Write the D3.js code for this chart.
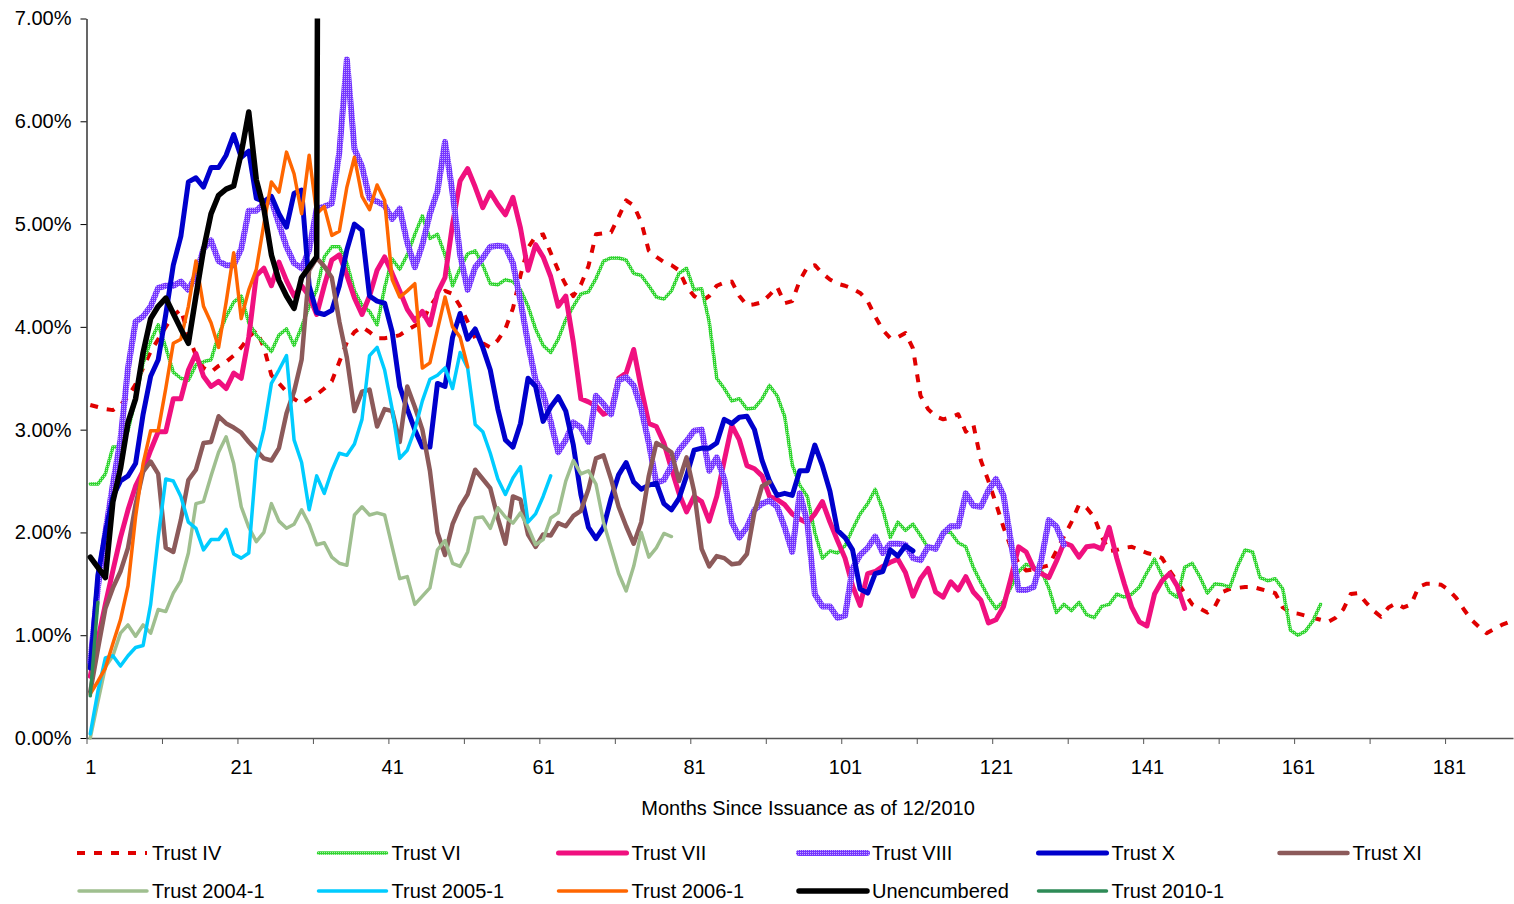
<!DOCTYPE html>
<html>
<head>
<meta charset="utf-8">
<script src="https://cdn.jsdelivr.net/npm/d3@7"></script>
<style>
  body { margin: 0; background: #fff; }
  text { font-family: "Liberation Sans", Arial, Helvetica, sans-serif; fill: #000; }
</style>
</head>
<body>
<svg id="chart" width="1514" height="904"></svg>
<script>
// ---------------- DATA ----------------
const monthCount = 189;
const xTickLabels = [1, 21, 41, 61, 81, 101, 121, 141, 161, 181];
const yTickValues = [0, 1, 2, 3, 4, 5, 6, 7];
const xAxisTitle = "Months Since Issuance as of 12/2010";

const seriesNames = ["Trust IV", "Trust VI", "Trust VII", "Trust VIII", "Trust X", "Trust XI",
  "Trust 2004-1", "Trust 2005-1", "Trust 2006-1", "Unencumbered", "Trust 2010-1"];

const trustIV = [
  3.24, 3.22, 3.20, 3.19, 3.24, 3.32, 3.44, 3.60, 3.76, 3.88,
  4.00, 4.11, 4.17, 3.92, 3.72, 3.60, 3.56, 3.62, 3.66, 3.72,
  3.80, 3.90, 3.97, 3.80, 3.53, 3.45, 3.37, 3.30, 3.25, 3.30,
  3.34, 3.40, 3.47, 3.66, 3.85, 3.95, 4.00, 3.95, 3.89, 3.89,
  3.90, 3.92, 3.97, 4.01, 4.05, 4.20, 4.30, 4.35, 4.32, 4.20,
  4.05, 3.89, 3.84, 3.80, 3.87, 3.98, 4.18, 4.50, 4.77, 4.88,
  4.90, 4.72, 4.55, 4.41, 4.30, 4.41, 4.59, 4.90, 4.91, 4.92,
  5.07, 5.23, 5.18, 5.02, 4.74, 4.68, 4.63, 4.60, 4.55, 4.39,
  4.30, 4.25, 4.30, 4.40, 4.43, 4.44, 4.30, 4.21, 4.22, 4.24,
  4.31, 4.39, 4.23, 4.25, 4.45, 4.58, 4.60, 4.52, 4.46, 4.42,
  4.40, 4.37, 4.33, 4.25, 4.10, 3.97, 3.89, 3.90, 3.94, 3.79,
  3.33, 3.20, 3.13, 3.10, 3.12, 3.15, 2.98, 3.05, 2.70, 2.50,
  2.28, 2.05, 1.85, 1.70, 1.63, 1.64, 1.66, 1.68, 1.82, 1.96,
  2.10, 2.27, 2.24, 2.15, 1.96, 1.82, 1.83, 1.85, 1.86, 1.83,
  1.80, 1.78, 1.75, 1.63, 1.52, 1.41, 1.30, 1.26, 1.22, 1.28,
  1.42, 1.45, 1.46, 1.47, 1.47, 1.45, 1.43, 1.41, 1.27, 1.22,
  1.21, 1.19, 1.17, 1.15, 1.13, 1.17, 1.25, 1.40, 1.41, 1.32,
  1.24, 1.18, 1.27, 1.31, 1.27, 1.30, 1.47, 1.50, 1.50, 1.49,
  1.44, 1.36, 1.25, 1.15, 1.08, 1.02, 1.06, 1.10, 1.13
];

const trustVI = [
  2.47, 2.47, 2.57, 2.83, 2.83, 2.99, 3.30, 3.65, 3.86, 4.02,
  3.80, 3.56, 3.50, 3.48, 3.63, 3.66, 3.68, 3.92, 4.10, 4.24,
  4.30, 4.04, 3.92, 3.84, 3.76, 3.92, 3.98, 3.82, 4.00, 4.20,
  4.36, 4.68, 4.78, 4.78, 4.62, 4.35, 4.21, 4.15, 4.02, 4.38,
  4.66, 4.56, 4.70, 4.90, 5.08, 4.86, 4.90, 4.70, 4.40, 4.57,
  4.71, 4.74, 4.60, 4.42, 4.41, 4.46, 4.44, 4.36, 4.20, 3.98,
  3.82, 3.75, 3.88, 4.07, 4.20, 4.32, 4.34, 4.47, 4.64, 4.67,
  4.67, 4.65, 4.52, 4.50, 4.40, 4.29, 4.27, 4.35, 4.52, 4.57,
  4.36, 4.37, 4.05, 3.50, 3.40, 3.28, 3.30, 3.20, 3.21, 3.30,
  3.43, 3.33, 3.13, 2.66, 2.46, 2.35, 2.00, 1.75, 1.82, 1.80,
  1.87, 2.03, 2.18, 2.28, 2.42, 2.22, 1.95, 2.10, 2.02, 2.08,
  1.97, 1.85, 1.84, 2.01, 2.00, 1.90, 1.86, 1.66, 1.51, 1.37,
  1.26, 1.33, 1.47, 1.62, 1.69, 1.66, 1.63, 1.46, 1.22, 1.30,
  1.24, 1.32, 1.20, 1.17, 1.28, 1.30, 1.40, 1.37, 1.40, 1.47,
  1.61, 1.74, 1.58, 1.42, 1.37, 1.66, 1.70, 1.57, 1.41, 1.50,
  1.49, 1.47, 1.67, 1.83, 1.81, 1.56, 1.53, 1.55, 1.45, 1.05,
  1.00, 1.04, 1.14, 1.30
];

const trustVII = [
  0.60, 0.95, 1.30, 1.63, 1.95, 2.22, 2.45, 2.60, 2.80, 2.98,
  2.98, 3.30, 3.30, 3.58, 3.74, 3.52, 3.42, 3.47, 3.40, 3.55,
  3.50, 3.90, 4.50, 4.57, 4.40, 4.63, 4.45, 4.30, 4.40, 4.30,
  4.12, 4.40, 4.65, 4.70, 4.50, 4.28, 4.12, 4.30, 4.55, 4.68,
  4.52, 4.35, 4.17, 4.06, 4.15, 4.02, 4.33, 4.48, 5.00, 5.42,
  5.54, 5.36, 5.16, 5.31, 5.19, 5.09, 5.26, 4.96, 4.55, 4.80,
  4.68, 4.49, 4.20, 4.30, 3.85, 3.30, 3.27, 3.23, 3.15, 3.18,
  3.50, 3.55, 3.78, 3.40, 3.06, 3.03, 2.87, 2.62, 2.38, 2.20,
  2.35, 2.30, 2.11, 2.35, 2.70, 3.04, 2.90, 2.65, 2.62, 2.55,
  2.35, 2.32, 2.27, 2.18, 2.13, 2.09, 2.18, 2.30, 2.10, 1.92,
  1.75, 1.48, 1.29, 1.60, 1.62, 1.67, 1.71, 1.74, 1.61, 1.38,
  1.55, 1.65, 1.42, 1.37, 1.52, 1.44, 1.57, 1.42, 1.34, 1.12,
  1.15, 1.28, 1.56, 1.86, 1.81, 1.65, 1.60, 1.56, 1.72, 1.90,
  1.87, 1.76, 1.86, 1.87, 1.84, 2.05, 1.75, 1.50, 1.27, 1.13,
  1.09, 1.40, 1.53, 1.60, 1.48, 1.26
];

const trustVIII = [
  0.74, 1.46, 2.00, 2.47, 2.90, 3.60, 4.05, 4.10, 4.20, 4.38,
  4.40, 4.40, 4.44, 4.36, 4.50, 4.76, 4.84, 4.64, 4.60, 4.60,
  4.76, 5.13, 5.13, 5.20, 5.23, 5.00, 4.78, 4.62, 4.57, 4.75,
  5.15, 5.17, 5.20, 5.70, 6.60, 5.73, 5.56, 5.25, 5.22, 5.18,
  5.05, 5.15, 4.82, 4.58, 4.80, 5.10, 5.32, 5.80, 5.30, 4.70,
  4.36, 4.58, 4.67, 4.78, 4.79, 4.78, 4.62, 4.25, 3.84, 3.48,
  3.35, 3.08, 2.78, 2.90, 3.07, 3.02, 2.88, 3.33, 3.25, 3.15,
  3.48, 3.51, 3.43, 3.20, 2.87, 2.48, 2.51, 2.65, 2.80, 2.89,
  2.99, 3.00, 2.60, 2.73, 2.52, 2.10, 1.95, 2.05, 2.22, 2.28,
  2.31, 2.25, 2.05, 1.81, 2.38, 2.10, 1.40, 1.28, 1.28, 1.17,
  1.19, 1.65, 1.78, 1.85, 1.96, 1.80, 1.89, 1.89, 1.88, 1.75,
  1.73, 1.86, 1.84, 1.99, 2.06, 2.06, 2.38, 2.26, 2.25, 2.41,
  2.52, 2.36, 1.90, 1.44, 1.44, 1.47, 1.73, 2.12, 2.06, 1.88
];

const trustX = [
  0.68, 1.58, 2.00, 2.35, 2.50, 2.55, 2.67, 3.15, 3.52, 3.68,
  4.12, 4.60, 4.88, 5.41, 5.45, 5.36, 5.55, 5.55, 5.67, 5.87,
  5.65, 5.71, 5.25, 5.22, 5.27, 5.10, 4.97, 5.30, 5.33, 4.40,
  4.14, 4.12, 4.16, 4.40, 4.75, 5.00, 4.94, 4.30, 4.25, 4.23,
  3.95, 3.42, 3.20, 3.00, 2.83, 2.83, 3.45, 3.42, 3.90, 4.13,
  3.88, 3.98, 3.80, 3.58, 3.20, 2.90, 2.83, 3.06, 3.50, 3.42,
  3.08, 3.22, 3.32, 3.18, 2.85, 2.37, 2.05, 1.94, 2.05, 2.33,
  2.56, 2.68, 2.49, 2.42, 2.46, 2.48, 2.28, 2.22, 2.33, 2.55,
  2.80, 2.82, 2.82, 2.87, 3.10, 3.06, 3.12, 3.13, 3.00, 2.70,
  2.50, 2.36, 2.38, 2.36, 2.60, 2.60, 2.85, 2.65, 2.40, 2.02,
  1.95, 1.83, 1.45, 1.41, 1.60, 1.62, 1.83, 1.77, 1.87, 1.82
];

const trustXI = [
  0.45, 0.86, 1.26, 1.46, 1.62, 1.85, 2.27, 2.59, 2.69, 2.57,
  1.85, 1.81, 2.12, 2.51, 2.61, 2.87, 2.88, 3.13, 3.06, 3.02,
  2.97, 2.88, 2.80, 2.72, 2.70, 2.82, 3.16, 3.37, 3.68, 4.55,
  4.67, 4.59, 4.48, 4.05, 3.70, 3.18, 3.37, 3.39, 3.03, 3.20,
  3.18, 2.88, 3.42, 3.22, 3.00, 2.60, 2.00, 1.78, 2.08, 2.25,
  2.37, 2.61, 2.52, 2.43, 2.14, 1.89, 2.35, 2.32, 1.98, 1.86,
  1.98, 1.97, 2.09, 2.06, 2.16, 2.21, 2.42, 2.72, 2.75, 2.52,
  2.25, 2.06, 1.89, 2.10, 2.55, 2.87, 2.83, 2.78, 2.50, 2.73,
  2.40, 1.84, 1.67, 1.77, 1.75, 1.69, 1.70, 1.79, 2.20, 2.45,
  2.49
];

const trust2004 = [
  0.00, 0.35, 0.69, 0.80, 1.02, 1.10, 0.99, 1.10, 1.02, 1.25,
  1.23, 1.41, 1.53, 1.80, 2.28, 2.30, 2.55, 2.78, 2.93, 2.67,
  2.25, 2.05, 1.91, 2.00, 2.28, 2.11, 2.04, 2.08, 2.22, 2.08,
  1.88, 1.90, 1.76, 1.70, 1.68, 2.17, 2.25, 2.17, 2.19, 2.17,
  1.86, 1.55, 1.57, 1.30, 1.38, 1.46, 1.83, 1.92, 1.70, 1.67,
  1.81, 2.14, 2.15, 2.04, 2.24, 2.15, 2.09, 2.19, 2.05, 1.88,
  1.93, 2.14, 2.19, 2.50, 2.70, 2.57, 2.60, 2.47, 2.10, 1.85,
  1.60, 1.43, 1.67, 2.00, 1.76, 1.85, 1.99, 1.96
];

const trust2005 = [
  0.04, 0.45, 0.78, 0.80, 0.70, 0.80, 0.88, 0.90, 1.30, 1.95,
  2.52, 2.50, 2.35, 2.10, 2.04, 1.83, 1.93, 1.93, 2.03, 1.79,
  1.75, 1.80, 2.70, 3.00, 3.45, 3.58, 3.72, 2.90, 2.68, 2.22,
  2.55, 2.38, 2.60, 2.77, 2.75, 2.86, 3.10, 3.72, 3.80, 3.58,
  3.20, 2.72, 2.80, 3.00, 3.28, 3.49, 3.53, 3.60, 3.40, 3.75,
  3.60, 3.05, 2.98, 2.77, 2.52, 2.37, 2.53, 2.64, 2.10, 2.18,
  2.35, 2.55
];

const trust2006 = [
  0.43, 0.55, 0.68, 0.92, 1.15, 1.48, 2.15, 2.67, 2.99, 2.99,
  3.40, 3.84, 3.88, 4.20, 4.64, 4.20, 4.04, 3.80, 4.24, 4.72,
  4.08, 4.36, 4.56, 5.00, 5.41, 5.31, 5.70, 5.49, 5.10, 5.67,
  5.10, 5.17, 4.89, 4.93, 5.36, 5.65, 5.27, 5.14, 5.38, 5.23,
  4.46, 4.29, 4.35, 4.42, 3.60, 3.65, 3.97, 4.29, 4.00, 3.90,
  3.61
];

const unencumbered = [
  1.76, 1.66, 1.56, 2.30, 2.62, 3.07, 3.30, 3.75, 4.08, 4.20,
  4.28, 4.13, 3.98, 3.84, 4.30, 4.75, 5.10, 5.28, 5.34, 5.37,
  5.69, 6.09, 5.43, 5.15, 4.70, 4.45, 4.30, 4.18, 4.48, 4.58,
  4.68, 30.0
];

const trust2010 = [0.41, 1.32];

const seriesValues = [trustIV, trustVI, trustVII, trustVIII, trustX, trustXI,
  trust2004, trust2005, trust2006, unencumbered, trust2010];

// ---------------- STYLES ----------------
const seriesStyles = [
  { stroke: "#e00000", width: 4, dash: "8,9", cap: "butt" },
  { stroke: "url(#patVI)", width: 3.5 },
  { stroke: "#f0107f", width: 5 },
  { stroke: "url(#patVIII)", width: 6 },
  { stroke: "#0000cc", width: 5 },
  { stroke: "#8c5a5a", width: 4.5 },
  { stroke: "#9fbf8f", width: 3.5 },
  { stroke: "#00ccff", width: 3.5 },
  { stroke: "#ff6600", width: 3.5 },
  { stroke: "#000000", width: 5.5 },
  { stroke: "#2e8b57", width: 3.5 }
];

// ---------------- CHART ----------------
const svg = d3.select("#chart");
const defs = svg.append("defs");

function stipple(id, base, dot) {
  const p = defs.append("pattern").attr("id", id)
    .attr("width", 2).attr("height", 2).attr("patternUnits", "userSpaceOnUse");
  p.append("rect").attr("width", 2).attr("height", 2).attr("fill", base);
  p.append("rect").attr("width", 1).attr("height", 1).attr("fill", dot);
}
stipple("patVI", "#2fd42f", "#a6f0a6");
stipple("patVIII", "#7436ff", "#c4a6ff");

const x = d3.scaleLinear().domain([0.5, monthCount + 0.5]).range([86.5, 1513]);
const y = d3.scaleLinear().domain([0, 7]).range([738, 18.5]);

defs.append("clipPath").attr("id", "plotClip")
  .append("rect").attr("x", 0).attr("y", y(7)).attr("width", 1514).attr("height", 904);

// Y axis
const yAxis = svg.append("g").attr("transform", `translate(${x.range()[0]},0)`)
  .call(d3.axisLeft(y).tickValues(yTickValues).tickSize(6).tickSizeOuter(0).tickPadding(9)
    .tickFormat(d => d.toFixed(2) + "%"));
yAxis.select(".domain").attr("stroke", "#000").attr("stroke-width", 1.2);
yAxis.selectAll(".tick line").attr("stroke", "#000");
yAxis.selectAll("text").style("font-size", "20px").attr("fill", "#000");

// X axis ticks (every 10 months, at category boundaries)
const xTickPositions = d3.range(0.5, 181, 10);
const xAxis = svg.append("g").attr("transform", `translate(0,${y(0)})`)
  .call(d3.axisBottom(x).tickValues(xTickPositions).tickSize(6).tickSizeOuter(0).tickFormat(""));
xAxis.select(".domain").attr("stroke", "#555").attr("stroke-width", 1.5);
xAxis.selectAll(".tick line").attr("stroke", "#555");

// X axis labels (every 20 months)
const xLab = svg.append("g").attr("transform", `translate(0,${y(0)})`)
  .call(d3.axisBottom(x).tickValues(xTickLabels).tickSize(0).tickPadding(22).tickFormat(d3.format("d")));
xLab.select(".domain").remove();
xLab.selectAll("text").style("font-size", "20px").attr("fill", "#000");

svg.append("text").attr("x", 808).attr("y", 815).attr("text-anchor", "middle")
  .style("font-size", "20px").text(xAxisTitle);

// Lines
const line = d3.line().x((d, i) => x(i + 1)).y(d => y(d));
const plot = svg.append("g").attr("clip-path", "url(#plotClip)");
seriesValues.forEach((vals, i) => {
  const s = seriesStyles[i];
  plot.append("path").datum(vals)
    .attr("d", line)
    .attr("fill", "none")
    .attr("stroke", s.stroke)
    .attr("stroke-width", s.width)
    .attr("stroke-linejoin", "round")
    .attr("stroke-linecap", s.cap || "round")
    .attr("stroke-dasharray", s.dash || null);
});

// Legend
const legendCols = [77, 316.5, 556.5, 797, 1036.5, 1277.5];
const legendRows = [853, 891];
seriesNames.forEach((name, i) => {
  const s = seriesStyles[i];
  const cx = legendCols[i % 6];
  const cy = legendRows[Math.floor(i / 6)];
  const g = svg.append("g");
  g.append("line").attr("x1", cx + (s.dash ? 0 : 2)).attr("x2", cx + 70).attr("y1", cy).attr("y2", cy)
    .attr("stroke", s.stroke).attr("stroke-width", s.width)
    .attr("stroke-linecap", s.cap || "round")
    .attr("stroke-dasharray", s.dash || null);
  g.append("text").attr("x", cx + 75).attr("y", cy + 7)
    .style("font-size", "20px").text(name);
});
</script>
</body>
</html>
